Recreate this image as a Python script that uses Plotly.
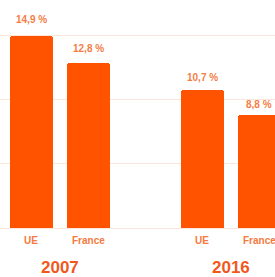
import plotly.graph_objects as go

categories = ["UE", "France", "UE", "France"]
positions = [0, 1, 3, 4]
values = [14.9, 12.8, 10.7, 8.8]
value_labels = ["14,9 %", "12,8 %", "10,7 %", "8,8 %"]
years = ["2007", "2016"]
year_positions = [0.5, 3.5]

BAR = "#ff5300"
LABEL = "#f57d45"
CAT = "#f47a40"
YEAR = "#f0581e"
FONT = "Liberation Sans, Arial, sans-serif"

fig = go.Figure()
fig.add_trace(go.Bar(
    x=positions, y=values, width=0.755,
    marker=dict(color=BAR, line=dict(width=0), cornerradius=3),
    hoverinfo="skip",
))

for xp, v, t in zip(positions, values, value_labels):
    fig.add_annotation(x=xp, y=v * 1.09, text=f"<b>{t}</b>", showarrow=False,
                       xanchor="center", yanchor="middle",
                       font=dict(family=FONT, size=10, color=LABEL))

for xp, c in zip(positions, categories):
    fig.add_annotation(x=xp, y=0, yref="paper", text=f"<b>{c}</b>", showarrow=False,
                       xanchor="center", yanchor="middle", yshift=-12,
                       font=dict(family=FONT, size=10, color=CAT))

for xp, t in zip(year_positions, years):
    fig.add_annotation(x=xp, y=0, yref="paper", text=f"<b>{t}</b>", showarrow=False,
                       xanchor="center", yanchor="middle", yshift=-39,
                       font=dict(family=FONT, size=17, color=YEAR))

fig.update_layout(
    width=275, height=277,
    margin=dict(l=0, r=0, t=0, b=49),
    paper_bgcolor="white", plot_bgcolor="white",
    showlegend=False,
    bargap=0,
    xaxis=dict(range=[-0.55, -0.55 + 275 / 57], showticklabels=False,
               showgrid=False, zeroline=False, showline=False, fixedrange=True),
    yaxis=dict(range=[0, 17.72], dtick=5, showticklabels=False,
               showgrid=True, gridcolor="#fce6da", gridwidth=1,
               zeroline=True, zerolinecolor="#fce6da", zerolinewidth=1,
               showline=False, fixedrange=True),
)

fig.write_html("out.html", config={"displayModeBar": False},
               post_script="document.body.style.margin='0';document.body.style.overflow='hidden';")
